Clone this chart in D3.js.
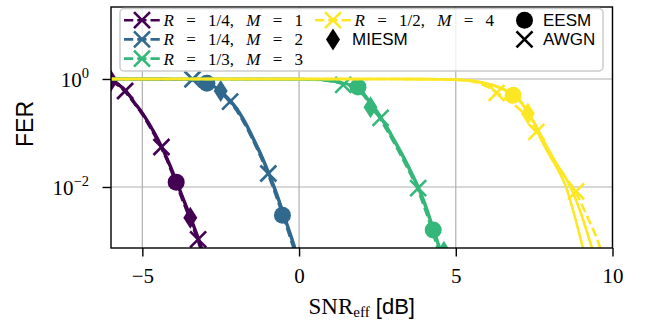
<!DOCTYPE html>
<html>
<head>
<meta charset="utf-8">
<script src="https://cdn.jsdelivr.net/npm/d3@7"></script>
<style>
body { margin: 0; background: #fff; }
text { white-space: pre; }
</style>
</head>
<body>
<div id="chart"></div>
<script>
// values (SNR in dB, FER linear)
var rates = ["1/4", "1/4", "1/3", "1/2"];
var orders = [1, 2, 3, 4];
var colors = ["#440154", "#31688e", "#35b779", "#fde725"];

var snrP = [-6, -5.75, -5.5, -5.25, -5, -4.75, -4.5, -4.25, -4, -3.75, -3.5, -3.25, -3];
var eesmP = [0.912, 0.776, 0.562, 0.355, 0.229, 0.132, 0.0724, 0.0363, 0.0162, 0.00692, 0.00295, 0.0012, 0.000447];
var miesmP = [0.933, 0.794, 0.589, 0.372, 0.24, 0.141, 0.0776, 0.0389, 0.0178, 0.00759, 0.00324, 0.00132, 0.0005];
var awgnP = [0.891, 0.741, 0.537, 0.347, 0.219, 0.126, 0.0692, 0.0347, 0.0151, 0.00631, 0.00269, 0.0011, 0.000398];

var snrB = [-6, -4.5, -4, -3.5, -3.25, -3, -2.75, -2.5, -2.25, -2, -1.75, -1.5, -1.25, -1, -0.75, -0.5, -0.25, 0];
var eesmB = [1, 0.995, 0.989, 0.966, 0.933, 0.861, 0.741, 0.575, 0.417, 0.275, 0.162, 0.0832, 0.0417, 0.0191, 0.00794, 0.00302, 0.00112, 0.000398];
var miesmB = [1, 0.995, 0.991, 0.97, 0.94, 0.871, 0.759, 0.603, 0.437, 0.295, 0.174, 0.0912, 0.0457, 0.0209, 0.00891, 0.00339, 0.00126, 0.000447];
var awgnB = [1, 0.993, 0.986, 0.959, 0.923, 0.851, 0.724, 0.562, 0.398, 0.263, 0.151, 0.0794, 0.0389, 0.0178, 0.00724, 0.00275, 0.001, 0.000355];

var snrG = [-6, 0, 0.5, 1, 1.25, 1.5, 1.75, 2, 2.25, 2.5, 2.75, 3, 3.25, 3.5, 3.75, 4, 4.25, 4.5, 4.75];
var eesmG = [1, 0.993, 0.977, 0.923, 0.871, 0.813, 0.724, 0.575, 0.363, 0.234, 0.138, 0.0759, 0.0417, 0.0219, 0.011, 0.00479, 0.00178, 0.000631, 0.0002];
var miesmG = [1, 0.995, 0.982, 0.933, 0.881, 0.822, 0.741, 0.603, 0.389, 0.251, 0.148, 0.0832, 0.0457, 0.024, 0.012, 0.00537, 0.002, 0.000724, 0.000251];
var awgnG = [1, 0.991, 0.973, 0.912, 0.851, 0.776, 0.676, 0.537, 0.355, 0.219, 0.126, 0.0708, 0.038, 0.02, 0.01, 0.00417, 0.00151, 0.000525, 0.000158];

var snrY = [-6, 3, 4, 4.5, 5, 5.5, 6, 6.25, 6.5, 6.75, 7, 7.25, 7.5, 7.75, 8, 8.25, 8.5, 8.75, 9, 9.25, 9.5, 9.75];
var eesmY = [1, 0.998, 0.993, 0.986, 0.973, 0.933, 0.813, 0.741, 0.646, 0.537, 0.417, 0.263, 0.151, 0.0708, 0.038, 0.0214, 0.0107, 0.00355, 0.001, 0.000251, 0.00006, 0.00001];
var miesmY = [1, 0.998, 0.993, 0.986, 0.973, 0.933, 0.813, 0.75, 0.661, 0.55, 0.437, 0.269, 0.158, 0.0832, 0.0447, 0.0251, 0.0151, 0.00759, 0.00316, 0.00112, 0.000355, 0.0001];
var awgnY = [1, 0.998, 0.991, 0.982, 0.966, 0.912, 0.724, 0.589, 0.468, 0.372, 0.288, 0.2, 0.12, 0.0724, 0.0417, 0.0245, 0.0148, 0.00955, 0.00501, 0.0024, 0.00112, 0.000398];

// marker points [snr, fer]
var mkEesm = [[[-3.92, 0.0123]], [[-2.94, 0.83], [-0.53, 0.003]], [[1.88, 0.71], [4.28, 0.0016]], [[6.83, 0.5]]];
var mkMiesm = [[[-6, 0.93], [-3.47, 0.0027]], [[-2.5, 0.6], [0.0, 0.0005]], [[2.28, 0.3], [4.62, 0.00063]], [[7.3, 0.229]]];
var mkAwgn = [[[-5.55, 0.6], [-4.39, 0.055], [-3.22, 0.00107]], [[-3.4, 0.99], [-2.2, 0.38], [-0.98, 0.0178]],
              [[1.41, 0.78], [2.6, 0.19], [3.8, 0.0095]], [[6.3, 0.55], [7.57, 0.105], [8.84, 0.0083]]];

var xTicks = [-5, 0, 5, 10];
var yTicks = [1, 0.01];
var yTickExp = ["0", "\u22122"];

var width = 646, height = 320;
var L = 111, R = 612.5, T = 7, B = 248;
var serif = "'Liberation Serif', 'DejaVu Serif', serif";
var sans = "'Liberation Sans', Arial, sans-serif";

var snrs = [snrP, snrB, snrG, snrY];
var eesm = [eesmP, eesmB, eesmG, eesmY];
var miesm = [miesmP, miesmB, miesmG, miesmY];
var awgn = [awgnP, awgnB, awgnG, awgnY];

var svg = d3.select("#chart").append("svg")
    .attr("width", width)
    .attr("height", height);

var x = d3.scaleLinear().domain([-6, 10]).range([L, R]);
var y = d3.scaleLog().domain([Math.pow(10, -3.13), Math.pow(10, 1.333)]).range([B, T]);

svg.append("defs").append("clipPath").attr("id", "clip")
    .append("rect").attr("x", L).attr("y", T).attr("width", R - L).attr("height", B - T);

// grid
var grid = svg.append("g").attr("stroke", "#b0b0b0").attr("stroke-width", 1.2);
grid.selectAll(".gx").data(xTicks).enter().append("line")
    .attr("x1", function (d) { return x(d); }).attr("x2", function (d) { return x(d); })
    .attr("y1", T).attr("y2", B);
grid.selectAll(".gy").data(yTicks).enter().append("line")
    .attr("y1", function (d) { return y(d); }).attr("y2", function (d) { return y(d); })
    .attr("x1", L).attr("x2", R);

var line = d3.line()
    .x(function (d) { return x(d[0]); })
    .y(function (d) { return y(d[1]); })
    .curve(d3.curveMonotoneX);

function cross(s) { return "M" + (-s) + "," + (-s) + "L" + s + "," + s + "M" + (-s) + "," + s + "L" + s + "," + (-s); }
var diamond = "M0,-11L7,0L0,11L-7,0Z";

function drawMarkers(g, pts, kind, col) {
    var m = g.selectAll(null).data(pts).enter();
    if (kind == "circle") {
        m.append("circle").attr("cx", function (d) { return x(d[0]); }).attr("cy", function (d) { return y(d[1]); })
            .attr("r", 8.5).attr("fill", col);
    } else if (kind == "diamond") {
        m.append("path").attr("d", diamond).attr("fill", col)
            .attr("transform", function (d) { return "translate(" + x(d[0]) + "," + y(d[1]) + ")"; });
    } else {
        m.append("path").attr("d", cross(8)).attr("fill", "none").attr("stroke", col).attr("stroke-width", 2.6)
            .attr("transform", function (d) { return "translate(" + x(d[0]) + "," + y(d[1]) + ")"; });
    }
}

var plot = svg.append("g").attr("clip-path", "url(#clip)");
for (var i = 0; i < 4; i++) {
    var g = plot.append("g");
    var sets = [[eesm[i], null, mkEesm[i], "circle"], [miesm[i], null, mkMiesm[i], "diamond"], [awgn[i], "9.25,4", mkAwgn[i], "x"]];
    sets.forEach(function (s) {
        var pts = snrs[i].map(function (v, k) { return [v, s[0][k]]; });
        g.append("path").datum(pts).attr("d", line)
            .attr("fill", "none").attr("stroke", colors[i]).attr("stroke-width", 2.6)
            .attr("stroke-dasharray", s[1]);
        drawMarkers(g, s[2], s[3], colors[i]);
    });
}

// frame
svg.append("rect").attr("x", L).attr("y", T).attr("width", R - L).attr("height", B - T)
    .attr("fill", "none").attr("stroke", "#000").attr("stroke-width", 1.4);

// axes
var xAxis = svg.append("g").attr("transform", "translate(0," + B + ")")
    .call(d3.axisBottom(x).tickValues(xTicks).tickSize(8.5).tickPadding(6)
        .tickFormat(function (d) { return d < 0 ? "\u2212" + (-d) : d; }));
xAxis.attr("font-family", serif).attr("font-size", 21);
xAxis.select(".domain").remove();
xAxis.selectAll("line").attr("stroke-width", 1.4);
xAxis.selectAll("text").attr("fill", "#000").attr("dy", null).attr("y", 35);

var yAxis = svg.append("g").attr("transform", "translate(" + L + ",0)")
    .call(d3.axisLeft(y).tickValues(yTicks).tickSize(8.5).tickFormat(""));
yAxis.attr("font-family", serif).attr("font-size", 21);
yAxis.select(".domain").remove();
yAxis.selectAll("line").attr("stroke-width", 1.4);
yAxis.selectAll(".tick").each(function (d, k) {
    var t = d3.select(this).append("text").attr("x", -22).attr("y", 7.7)
        .attr("text-anchor", "end").attr("fill", "#000");
    t.append("tspan").text("10");
    t.append("tspan").attr("font-size", 14.5).attr("dy", -9).text(yTickExp[k]);
});

// axis labels
var xl = svg.append("text").attr("x", (L + R) / 2).attr("y", 314).attr("text-anchor", "middle");
xl.append("tspan").attr("font-family", serif).attr("font-size", 23).text("SNR");
xl.append("tspan").attr("font-family", serif).attr("font-size", 15).attr("dy", 3).text("eff");
xl.append("tspan").attr("font-family", sans).attr("font-size", 22).attr("dy", -3).text(" [dB]");

svg.append("text").attr("transform", "translate(32.5,124) rotate(-90)").attr("text-anchor", "middle")
    .attr("font-family", sans).attr("font-size", 23).text("FER");

// legend
var lg = svg.append("g");
lg.append("rect").attr("x", 120).attr("y", 8.5).attr("width", 483).attr("height", 62.5).attr("rx", 4)
    .attr("fill", "#fff").attr("fill-opacity", 0.8).attr("stroke", "#cccccc").attr("stroke-width", 1.5);

var rowY = [20.2, 39.4, 58.6];
var slots = [[124, 0], [124, 1], [124, 2], [315, 0]];
function mathLabel(x0, yb, rate, ord) {
    var t = lg.append("text").attr("x", x0).attr("y", yb)
        .attr("font-family", serif).attr("font-size", 17).attr("word-spacing", 8).attr("fill", "#000");
    t.append("tspan").attr("font-style", "italic").text("R");
    t.append("tspan").text(" = " + rate + ", ");
    t.append("tspan").attr("font-style", "italic").text("M");
    t.append("tspan").text(" = " + ord);
}
for (var j = 0; j < 4; j++) {
    var sx = slots[j][0], sy = rowY[slots[j][1]];
    lg.append("line").attr("x1", sx).attr("x2", sx + 36).attr("y1", sy).attr("y2", sy)
        .attr("stroke", colors[j]).attr("stroke-width", 2.6).attr("stroke-dasharray", "9.25,4");
    lg.append("path").attr("d", cross(8)).attr("transform", "translate(" + (sx + 18) + "," + sy + ")")
        .attr("stroke", colors[j]).attr("stroke-width", 2.6).attr("fill", "none");
    mathLabel(sx + 39.5, sy + 6, rates[j], orders[j]);
}
lg.append("path").attr("d", diamond).attr("transform", "translate(333," + rowY[1] + ")").attr("fill", "#000");
lg.append("text").attr("x", 352).attr("y", rowY[1] + 6).attr("font-family", sans).attr("font-size", 17).text("MIESM");
lg.append("circle").attr("cx", 524.5).attr("cy", rowY[0]).attr("r", 8.5).attr("fill", "#000");
lg.append("text").attr("x", 543).attr("y", rowY[0] + 6).attr("font-family", sans).attr("font-size", 17).text("EESM");
lg.append("path").attr("d", cross(8)).attr("transform", "translate(524.5," + rowY[1] + ")")
    .attr("stroke", "#000").attr("stroke-width", 2.6).attr("fill", "none");
lg.append("text").attr("x", 543).attr("y", rowY[1] + 6).attr("font-family", sans).attr("font-size", 17).text("AWGN");
</script>
</body>
</html>
